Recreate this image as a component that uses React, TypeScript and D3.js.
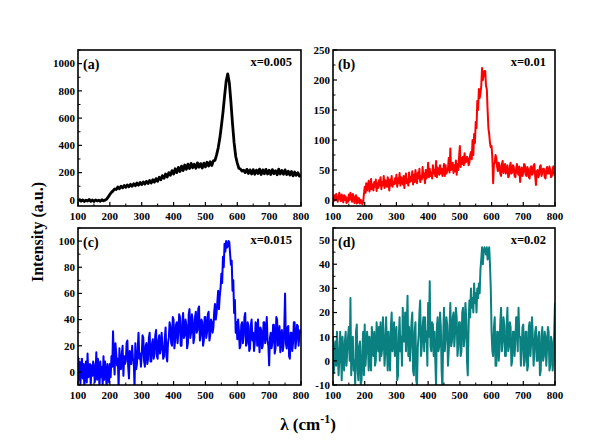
import React from "react";
import * as d3 from "d3";

// (a) sampled every 5 cm-1 from 100 to 800
const seriesA = [
  -8, 2, -10, 0, -12, -2, -9, 3, -11, -1,
  -12, 0, -8, -3, -11, 1, -7, -2, 6, 22,
  40, 55, 66, 80, 76, 95, 82, 100, 88, 106,
  92, 110, 96, 114, 100, 118, 104, 124, 108, 128,
  112, 132, 116, 136, 120, 142, 124, 148, 130, 156,
  136, 166, 148, 178, 158, 190, 168, 200, 180, 215,
  190, 228, 200, 238, 208, 248, 215, 256, 224, 262,
  230, 268, 236, 262, 232, 272, 240, 266, 234, 270,
  242, 276, 248, 280, 252, 286, 290, 330, 380, 450,
  540, 640, 760, 870, 925, 860, 720, 560, 420, 320,
  270, 232, 226, 212, 218, 200, 224, 194, 220, 190,
  222, 188, 218, 194, 226, 186, 220, 192, 224, 190,
  218, 186, 222, 192, 214, 184, 226, 190, 216, 188,
  220, 186, 210, 182, 208, 176, 204, 180, 200, 174,
  185,
];
// (b), (c), (d) sampled every 2.5 cm-1 from 100 to 800
const seriesB = [
  5, -2, 8, 0, 10, 3, -3, 6, 12, 1, -2, 9, 4, -4, 8, 0, 6, -5, 3, -3,
  9, 0, 12, 4, -3, 10, 6, -5, 2, 8, -6, 4, -4, 3, -6, 0, -2, -7, -4, 10,
  22, 12, 28, 16, 24, 32, 14, 20, 35, 18, 26, 16, 30, 22, 34, 15, 28, 20, 33, 24,
  38, 18, 30, 24, 40, 20, 33, 26, 22, 38, 28, 16, 34, 24, 40, 22, 30, 26, 36, 28,
  42, 22, 36, 28, 45, 24, 38, 30, 26, 40, 20, 36, 44, 28, 34, 24, 46, 30, 38, 32,
  48, 26, 42, 30, 50, 32, 28, 46, 36, 52, 30, 40, 34, 55, 38, 44, 28, 50, 36, 42,
  62, 38, 52, 40, 46, 36, 58, 44, 50, 40, 65, 38, 54, 46, 42, 58, 44, 52, 40, 48,
  60, 40, 58, 44, 48, 52, 70, 46, 86, 50, 52, 62, 45, 58, 48, 66, 42, 60, 50, 72,
  90, 55, 70, 60, 72, 58, 78, 62, 64, 72, 70, 58, 62, 75, 80, 68, 100, 75, 110, 95,
  130, 120, 165, 150, 185, 170, 178, 190, 220, 200, 208, 215, 215, 190, 185, 150, 120, 110, 95, 88,
  90, 70, 28, 60, 62, 75, 70, 55, 48, 62, 58, 44, 40, 60, 65, 45, 52, 60, 44, 50,
  58, 38, 40, 55, 62, 44, 46, 58, 55, 40, 38, 52, 60, 45, 42, 56, 30, 48, 54, 40,
  46, 60, 58, 42, 40, 55, 52, 38, 36, 54, 56, 42, 44, 58, 60, 40, 25, 48, 50, 38,
  42, 56, 58, 40, 46, 52, 52, 38, 36, 50, 55, 44, 44, 56, 50, 38, 40, 52, 56, 42,
  48,
];
const seriesC = [
  12, -6, 8, -10, 4, 10, -5, 6, -12, 2, 8, -8, 14, -4, 0, 6, -10, 5, -3, 8,
  5, -8, -2, 15, -6, 10, 2, -12, 8, -4, 4, -10, 12, -6, 8, -2, -12, 6, 0, -8,
  6, -4, 12, 4, 31, 8, -2, 22, 14, 5, 10, -12, 18, 4, 2, 14, 20, -3, 12, 6,
  8, 22, 24, 4, -5, 16, 14, 6, 20, 10, 8, -12, 22, 2, 6, 18, 30, 10, 14, 4,
  12, 28, 26, 8, 4, 20, 22, 6, 10, 26, 30, 8, 8, 22, 25, 10, 14, 28, 32, 12,
  10, 24, 28, 14, 18, 30, 20, 10, 12, 26, 34, 12, 8, 22, 26, 38, 35, 22, 20, 42,
  40, 18, 24, 36, 38, 22, 30, 44, 42, 20, 20, 38, 45, 26, 28, 40, 36, 18, 22, 44,
  48, 26, 30, 44, 40, 22, 26, 42, 46, 30, 32, 48, 50, 24, 28, 40, 38, 20, 24, 42,
  42, 26, 30, 44, 46, 24, 28, 40, 38, 30, 34, 46, 52, 40, 45, 54, 62, 48, 58, 64,
  75, 68, 88, 80, 98, 92, 100, 95, 96, 100, 99, 90, 82, 85, 62, 70, 45, 55, 30, 38,
  25, 40, 32, 18, 20, 36, 38, 22, 28, 42, 45, 20, 22, 38, 35, 16, 18, 36, 40, 24,
  30, 16, 22, 38, 36, 20, 40, 24, 15, 34, 32, 18, 20, 38, 38, 22, 28, 42, 24, 20,
  5, 26, 30, 18, 22, 36, 36, 14, 18, 42, 40, 20, 25, 35, 15, 28, 32, 16, 20, 34,
  60, 22, 18, 34, 35, 12, 10, 30, 30, 16, 22, 38, 38, 18, 24, 36, 35, 20, 28, 32,
  30,
];
const seriesD = [
  10, -5, 2, 8, -2, 12, 4, -6, 0, 12, 6, -8, 10, 2, -4, 8, 12, -2, 4, 10,
  14, 0, 26, -6, 8, 10, -4, 0, -10, 12, 15, -4, -8, 6, 8, -10, -8, 4, 12, -6,
  15, -2, 4, 12, 8, -4, 10, 2, -4, 14, 6, 2, 12, -2, 0, 16, 10, 4, 14, 0,
  16, 2, 5, 18, 10, -2, 4, 18, 6, -4, 12, 2, -4, 14, 20, 4, 8, 16, 2, 10,
  14, -8, -6, 10, 18, 4, 10, -2, 22, 8, 8, 20, 4, 14, 27, 2, 14, 0, 6, 16,
  20, -4, -6, 12, 16, -8, -10, 6, 10, 20, 25, 2, 6, 14, 18, 4, 18, 8, 12, -2,
  24, 10, 33, 6, 4, 16, 15, 2, 12, 0, -10, 14, 18, 4, 6, 20, 14, -4, -12, 10,
  22, 4, 10, 18, 15, -2, 4, 14, 24, 6, 8, 18, 20, 6, 12, 22, 18, 2, 6, 16,
  16, 2, 4, 20, 22, 6, 10, 24, 18, 0, -6, 14, 25, 18, 30, 22, 26, 20, 32, 24,
  28, 20, 30, 26, 32, 28, 38, 42, 47, 40, 45, 47, 46, 44, 47, 42, 45, 47, 40, 30,
  12, 4, 2, 14, 18, -2, -2, 12, 12, 0, 5, 16, 22, 4, 8, 18, 15, 2, 2, 14,
  22, 4, 6, 16, 14, -2, 0, 12, 12, 2, 8, 18, 18, 4, 22, 10, 10, -2, 4, 14,
  15, -2, 0, 12, 12, -4, -2, 14, 16, 2, 8, 18, 10, -2, 4, 12, 14, 0, 0, 10,
  12, -6, -4, 10, 14, 0, 2, 12, 10, -2, 5, 14, 12, -4, -2, 10, 8, -4, 0, 12,
  24,
];

const xTicks = [100, 200, 300, 400, 500, 600, 700, 800];
const xMinorTicks = [150, 250, 350, 450, 550, 650, 750];
const yTicksA = [0, 200, 400, 600, 800, 1000];
const yTicksB = [0, 50, 100, 150, 200, 250];
const yTicksC = [0, 20, 40, 60, 80, 100];
const yTicksD = [-10, 0, 10, 20, 30, 40, 50];
const panelLetters = ["(a)", "(b)", "(c)", "(d)"];
const panelLabels = ["x=0.005", "x=0.01", "x=0.015", "x=0.02"];

const FONT = "'Liberation Serif', 'Times New Roman', serif";

type PanelProps = {
  id: string;
  x0: number;
  x1: number;
  y0: number;
  y1: number;
  data: number[];
  yDomain: [number, number];
  yTicks: number[];
  color: string;
  letter: string;
  label: string;
  lw: number;
};

function Panel(p: PanelProps) {
  const x = d3.scaleLinear().domain([100, 800]).range([p.x0, p.x1]);
  const y = d3.scaleLinear().domain(p.yDomain).range([p.y1, p.y0]);
  const n = p.data.length;
  const pts: [number, number][] = p.data.map((v, i) => [100 + (i * 700) / (n - 1), v]);
  const line = d3
    .line<[number, number]>()
    .x((d) => x(d[0]))
    .y((d) => y(d[1]));
  const yStep = p.yTicks[1] - p.yTicks[0];
  const yMinor: number[] = [];
  for (let v = p.yTicks[0] - yStep / 2; v <= p.yDomain[1]; v += yStep) {
    if (v >= p.yDomain[0] && !p.yTicks.includes(v)) yMinor.push(v);
  }
  return (
    <g>
      <defs>
        <clipPath id={p.id}>
          <rect x={p.x0} y={p.y0} width={p.x1 - p.x0} height={p.y1 - p.y0} />
        </clipPath>
      </defs>
      <path
        d={line(pts) || ""}
        fill="none"
        stroke={p.color}
        strokeWidth={p.lw}
        strokeLinejoin="round"
        clipPath={`url(#${p.id})`}
      />
      <rect
        x={p.x0}
        y={p.y0}
        width={p.x1 - p.x0}
        height={p.y1 - p.y0}
        fill="none"
        stroke="#000"
        strokeWidth={1.6}
      />
      {p.yTicks.map((t) => (
        <g key={"yt" + t}>
          <line x1={p.x0} x2={p.x0 + 4} y1={y(t)} y2={y(t)} stroke="#000" strokeWidth={1.2} />
          <text
            x={p.x0 - 3}
            y={y(t)}
            dy="0.35em"
            textAnchor="end"
            fontFamily={FONT}
            fontWeight="bold"
            fontSize={11}
          >
            {t}
          </text>
        </g>
      ))}
      {yMinor.map((t) => (
        <line key={"ym" + t} x1={p.x0} x2={p.x0 + 2.5} y1={y(t)} y2={y(t)} stroke="#000" strokeWidth={1} />
      ))}
      {xTicks.map((t) => (
        <g key={"xt" + t}>
          <line x1={x(t)} x2={x(t)} y1={p.y1} y2={p.y1 - 4} stroke="#000" strokeWidth={1.2} />
          <text
            x={x(t)}
            y={p.y1 + 13.5}
            textAnchor="middle"
            fontFamily={FONT}
            fontWeight="bold"
            fontSize={11}
          >
            {t}
          </text>
        </g>
      ))}
      {xMinorTicks.map((t) => (
        <line key={"xm" + t} x1={x(t)} x2={x(t)} y1={p.y1} y2={p.y1 - 2.5} stroke="#000" strokeWidth={1} />
      ))}
      <text x={p.x0 + 5} y={p.y0 + 19} fontFamily={FONT} fontWeight="bold" fontSize={14}>
        {p.letter}
      </text>
      <text
        x={p.x1 - 9}
        y={p.y0 + 16}
        textAnchor="end"
        fontFamily={FONT}
        fontWeight="bold"
        fontSize={12.5}
      >
        {p.label}
      </text>
    </g>
  );
}

export default function App() {
  return (
    <svg width={600} height={448} style={{ display: "block", position: "absolute", left: 0, top: 0 }}>
      <rect x={0} y={0} width={600} height={448} fill="#fff" />
      <Panel id="ca" x0={78} x1={301} y0={50} y1={206} data={seriesA} yDomain={[-45, 1100]}
        yTicks={yTicksA} color="#000000" letter={panelLetters[0]} label={panelLabels[0]} lw={2.8} />
      <Panel id="cb" x0={333} x1={555} y0={50} y1={206} data={seriesB} yDomain={[-10, 250]}
        yTicks={yTicksB} color="#ff0000" letter={panelLetters[1]} label={panelLabels[1]} lw={2} />
      <Panel id="cc" x0={78} x1={301} y0={228} y1={385} data={seriesC} yDomain={[-10, 110]}
        yTicks={yTicksC} color="#0000ff" letter={panelLetters[2]} label={panelLabels[2]} lw={2} />
      <Panel id="cd" x0={333} x1={555} y0={228} y1={385} data={seriesD} yDomain={[-10, 55]}
        yTicks={yTicksD} color="#0a8080" letter={panelLetters[3]} label={panelLabels[3]} lw={2} />
      <text
        transform="translate(43,232) rotate(-90)"
        textAnchor="middle"
        fontFamily={FONT}
        fontWeight="bold"
        fontSize={16}
      >
        Intensity (a.u.)
      </text>
      <text x={308} y={430} textAnchor="middle" fontFamily={FONT} fontWeight="bold" fontSize={17}>
        λ  (cm<tspan dy={-7} fontSize={12}>-1</tspan><tspan dy={7}>)</tspan>
      </text>
    </svg>
  );
}
